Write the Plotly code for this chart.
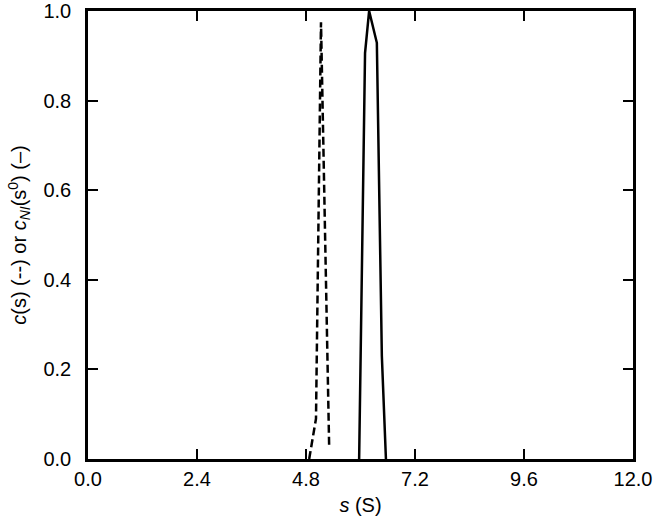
import plotly.graph_objects as go

# dashed curve c(s)
s_dash = [4.87, 5.02, 5.13, 5.31]
c_dash = [0.0, 0.09, 0.975, 0.027]

# solid curve c_NI(s0)
s_solid = [5.97, 6.10, 6.19, 6.36, 6.47, 6.56]
c_solid = [0.0, 0.906, 1.0, 0.929, 0.23, 0.0]

x_ticks = [0.0, 2.4, 4.8, 7.2, 9.6, 12.0]
y_ticks = [0.0, 0.2, 0.4, 0.6, 0.8, 1.0]

fig = go.Figure()
fig.add_trace(go.Scatter(x=s_dash, y=c_dash, mode="lines",
                         line=dict(color="black", width=2.5, dash="8px,4px"),
                         showlegend=False))
fig.add_trace(go.Scatter(x=s_solid, y=c_solid, mode="lines",
                         line=dict(color="black", width=2.5),
                         showlegend=False))

font = dict(family="Liberation Sans, Arial, sans-serif", size=20, color="black")
axis_common = dict(showgrid=False, zeroline=False, showline=True, linecolor="black",
                   linewidth=2.5, mirror="allticks", ticks="inside", ticklen=10,
                   tickwidth=2, tickcolor="black", tickfont=font, automargin=False,
                   ticklabeloverflow="allow")

fig.update_xaxes(range=[0, 12], tickvals=x_ticks,
                 ticktext=[f"{v:.1f}" for v in x_ticks],
                 ticklabelstandoff=0,
                 title=dict(text="<i>s</i> (S)", font=font, standoff=10),
                 **axis_common)
fig.update_yaxes(range=[0, 1], tickvals=y_ticks,
                 ticktext=[f"{v:.1f}" for v in y_ticks],
                 ticklabelstandoff=10,
                 title=dict(text="<i>c</i>(s) (--) or <i>c</i><sub><i>NI</i></sub>(s<sup>0</sup>) (–)",
                            font=font, standoff=12),
                 **axis_common)

fig.update_layout(width=657, height=524, plot_bgcolor="white", paper_bgcolor="white",
                  margin=dict(l=88, r=24, t=11, b=65), font=font)

fig.write_html("out.html", config={"displayModeBar": False},
               post_script="document.body.style.margin='0';document.body.style.overflow='hidden';")
